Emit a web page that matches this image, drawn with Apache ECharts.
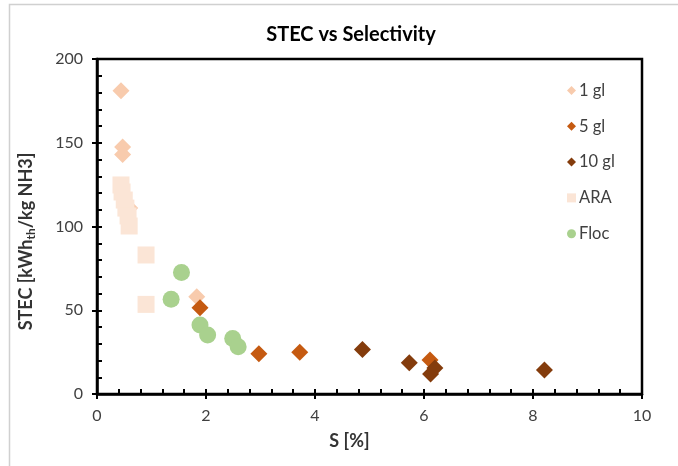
<!DOCTYPE html>
<html><head><meta charset="utf-8">
<script src="https://cdn.jsdelivr.net/npm/echarts@6/dist/echarts.min.js"></script>
<style>html,body{margin:0;padding:0;background:#fff}#c{width:678px;height:466px}</style>
</head><body><div id="c"></div>
<script>
const seriesNames = ['1 gl', '5 gl', '10 gl', 'ARA', 'Floc'];
const gl1 = [[0.44, 181], [0.47, 147.5], [0.47, 143], [0.6, 111], [1.83, 58]];
const gl5 = [[1.89, 51.5], [2.97, 24], [3.72, 25], [6.11, 20.3]];
const gl10 = [[4.87, 26.5], [5.73, 18.7], [6.12, 12], [6.2, 15.5], [8.21, 14.3]];
const ara = [[0.44, 124.8], [0.46, 120.6], [0.5, 115.8], [0.53, 111], [0.57, 106.3], [0.59, 100.3], [0.9, 83], [0.9, 53.5]];
const floc = [[1.55, 72.6], [1.36, 56.5], [1.89, 41.2], [2.03, 35.2], [2.49, 33.2], [2.59, 28.2]];
const xTicks = [0, 2, 4, 6, 8, 10];
const yTicks = [0, 50, 100, 150, 200];

const colors = ['#F8CBAD', '#C55A11', '#843C0C', '#FBE5D6', '#A9D18E'];
const symbols = ['diamond', 'diamond', 'diamond', 'rect', 'circle'];
const sizes = [17, 17, 17, 17, 17];
const datas = [gl1, gl5, gl10, ara, floc];
const FONT = 'Lato, "Open Sans", sans-serif';
const LW = 2.5;
const TW = 2;

const chart = echarts.init(document.getElementById('c'));
const baseX = {type:'value', min: xTicks[0], max: xTicks[xTicks.length-1], interval: 2, splitLine:{show:false}};
const baseY = {type:'value', min: yTicks[0], max: yTicks[yTicks.length-1], interval: 50, splitLine:{show:false}};
const gridPos = {left: 97, right: 36, top: 59, bottom: 72};
chart.setOption({
  backgroundColor: '#fff',
  animation: false,
  title: {text: 'STEC vs Selectivity', left: 346, top: 20, textAlign: 'center',
    textStyle: {fontFamily: FONT, fontSize: 20, fontWeight: 700, color: '#000'}},
  graphic: [{type:'rect', shape:{x:9.5, y:4.5, width:700, height:500}, style:{fill:'none', stroke:'#d0d0d0', lineWidth:1.5}, silent:true, z:-10}],
  legend: {orient: 'vertical', left: 562, top: 77, itemGap: 18.8, itemWidth: 9, itemHeight: 9,
    data: seriesNames.map((n,i)=>({name:n, icon: symbols[i]})),
    textStyle: {fontFamily: FONT, fontSize: 16.5, color: '#404040', padding:[0,0,0,-2]}},
  grid: [
    Object.assign({show: true, borderColor: '#000', borderWidth: LW, backgroundColor: 'transparent'}, gridPos),
    Object.assign({show: false}, gridPos)
  ],
  xAxis: [
    Object.assign({}, baseX, {gridIndex:0, name: 'S [%]', nameLocation: 'middle', nameGap: 38,
      nameTextStyle: {fontFamily: FONT, fontSize: 18, fontWeight: 700, color: '#333', padding:[0,40,0,0]},
      axisLine:{show:true, lineStyle:{color:'#000', width:LW}},
      axisLabel: {fontFamily: FONT, fontSize: 16, color: '#404040', margin: 14},
      axisTick: {show:true, inside:true, length:5, lineStyle:{color:'#000', width:TW}},
      minorTick: {show:true, splitNumber:5, length:5, lineStyle:{color:'#000', width:TW}}}),
    Object.assign({}, baseX, {gridIndex:1, position:'bottom', axisLabel:{show:false}, axisLine:{show:false},
      axisTick: {show:true, inside:false, length:5, lineStyle:{color:'#000', width:TW}}})
  ],
  yAxis: [
    Object.assign({}, baseY, {gridIndex:0, name: '{a|STEC [kWh}{s|th}{a|/kg NH3]}', nameLocation: 'middle', nameGap: 60,
      nameTextStyle: {padding:[0,30,0,0], fontWeight: 700, rich: {
        a: {fontFamily: FONT, fontSize: 18, fontWeight: 700, color: '#333', lineHeight: 22},
        s: {fontFamily: FONT, fontSize: 12, fontWeight: 700, color: '#333', lineHeight: 22, verticalAlign: 'bottom', padding:[7,0,0,0]}}},
      axisLine:{show:true, lineStyle:{color:'#000', width:LW}},
      axisLabel: {fontFamily: FONT, fontSize: 16, color: '#404040', margin: 14},
      axisTick: {show:true, inside:true, length:5, lineStyle:{color:'#000', width:TW}},
      minorTick: {show:true, splitNumber:5, length:5, lineStyle:{color:'#000', width:TW}}}),
    Object.assign({}, baseY, {gridIndex:1, position:'left', axisLabel:{show:false}, axisLine:{show:false},
      axisTick: {show:true, inside:false, length:5, lineStyle:{color:'#000', width:TW}}})
  ],
  series: seriesNames.map((n,i)=>({
    name: n, type: 'scatter', data: datas[i], symbol: symbols[i], symbolSize: sizes[i],
    itemStyle: {color: colors[i], opacity: 1}, xAxisIndex: 0, yAxisIndex: 0
  }))
});
</script></body></html>
